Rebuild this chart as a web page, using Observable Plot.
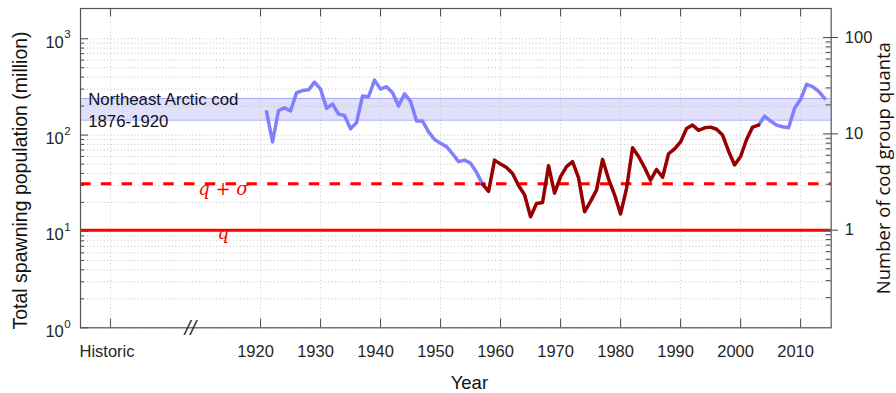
<!DOCTYPE html>
<html><head><meta charset="utf-8">
<script src="https://cdn.jsdelivr.net/npm/d3@7"></script>
<script src="https://cdn.jsdelivr.net/npm/@observablehq/plot@0.6"></script>
<style>html,body{margin:0;padding:0;background:#fff}svg{display:block}</style>
</head><body><div id="chart"></div>
<script>
// ---- data ----
const earlyYears  = [1921,1922,1923,1924,1925,1926,1927,1928,1929,1930,1931,1932,1933,1934,1935,1936,1937,1938,1939,1940,1941,1942,1943,1944,1945,1946,1947,1948,1949,1950,1951,1952,1953,1954,1955,1956,1957];
const earlyValues = [175,85,180,192,178,275,290,295,355,300,190,210,165,160,116,135,255,250,372,300,318,275,200,268,225,140,140,108,90,82,76,64,53,55,51,41,31];
const lowYears  = [1957,1958,1959,1960,1961,1962,1963,1964,1965,1966,1967,1968,1969,1970,1971,1972,1973,1974,1975,1976,1977,1978,1979,1980,1981,1982,1983,1984,1985,1986,1987,1988,1989,1990,1991,1992,1993,1994,1995,1996,1997,1998,1999,2000,2001,2002,2003];
const lowValues = [31,26,55,50,46,40,30,24,14.2,19.5,20,48,25,37,47,53,36,16,20.5,27,56,35,24,15.2,28,74,60,46,34,44,36.5,64,72,85,117,127,112,119,121,115,100,68,49,60,90,121,127];
const lateYears  = [2003,2004,2005,2006,2007,2008,2009,2010,2011,2012,2013,2014];
const lateValues = [127,157,140,127,122,119,190,235,336,318,285,240];

const q = 10.3;            // one cod group quantum (million)
const qPlusSigma = 31.2;   // q + sigma
const historicLow = 143, historicHigh = 240;   // Northeast Arctic cod 1876-1920 band

const historicTick = 1895, historicLabel = "Historic";
const yearTicks = [1920,1930,1940,1950,1960,1970,1980,1990,2000,2010];
const yearLabels = ["1920","1930","1940","1950","1960","1970","1980","1990","2000","2010"];
const breakYear = 1908.3;
const leftExponents = [0,1,2,3];
const leftMinor = [2,3,4,5,6,7,8,9,20,30,40,50,60,70,80,90,200,300,400,500,600,700,800,900];
const rightMajor = [1,10,100];
const rightMinor = [0.2,0.3,0.4,0.5,0.6,0.7,0.8,0.9,2,3,4,5,6,7,8,9,20,30,40,50,60,70,80,90];

// ---- layout ----
const W = 896, H = 393, mL = 80, mR = 65.3, mT = 8, mB = 65.7;
const xDom = [1890, 2015.1], yDom = [1, 2060];
const pxPerYear = (W - mL - mR) / (xDom[1] - xDom[0]);
const pxPerDecade = (H - mT - mB) / Math.log10(yDom[1] / yDom[0]);
const yrs = px => px / pxPerYear;
const fac = px => Math.pow(10, px / pxPerDecade);

const toRows = (xs, vs) => xs.map((year, i) => ({year, value: vs[i]}));
const early = toRows(earlyYears, earlyValues);
const low = toRows(lowYears, lowValues);
const late = toRows(lateYears, lateValues);
const yearRows = yearTicks.map((year, i) => ({year, label: yearLabels[i]}));
const xTickYears = [historicTick, ...yearTicks];
const leftMajor = leftExponents.map(e => Math.pow(10, e));

const font = "Liberation Sans, Arial, Helvetica, sans-serif";
const axisCol = "#555";
const textCol = "#262626";
const blue = "#8080ff", darkRed = "#960000", red = "#ff0000";
const serif = "DejaVu Serif, Liberation Serif, serif";

const chart = Plot.plot({
  width: W, height: H,
  marginLeft: mL, marginRight: mR, marginTop: mT, marginBottom: mB,
  style: {fontFamily: font, background: "#fff"},
  x: {domain: xDom, axis: null},
  y: {type: "log", domain: yDom, axis: null},
  marks: [
    // historic band
    Plot.rect([0], {x1: xDom[0], x2: xDom[1], y1: historicLow, y2: historicHigh, fill: "#e0e0fb"}),
    // grid
    Plot.ruleY([...leftMajor, ...leftMinor], {stroke: "#c4c4c4", strokeWidth: 0.9, strokeDasharray: "1.2,2.2"}),
    Plot.ruleX(xTickYears, {stroke: "#cfcfcf", strokeWidth: 0.9, strokeDasharray: "1.2,2.2"}),
    Plot.ruleY([historicLow, historicHigh], {stroke: "#a6a6ff", strokeWidth: 1}),
    // threshold lines
    Plot.ruleY([qPlusSigma], {stroke: red, strokeWidth: 3, strokeDasharray: "10.5,10.3"}),
    Plot.ruleY([q], {stroke: red, strokeWidth: 3}),
    // data
    Plot.line(early, {x: "year", y: "value", stroke: blue, strokeWidth: 3.5, strokeLinejoin: "round", strokeLinecap: "round"}),
    Plot.line(late, {x: "year", y: "value", stroke: blue, strokeWidth: 3.5, strokeLinejoin: "round", strokeLinecap: "round"}),
    Plot.line(low, {x: "year", y: "value", stroke: darkRed, strokeWidth: 3.5, strokeLinejoin: "round", strokeLinecap: "round"}),
    // annotations
    Plot.text([0], {x: xDom[0], y: historicHigh, text: () => "Northeast Arctic cod\n1876-1920", textAnchor: "start", lineAnchor: "top", lineHeight: 1.31, dx: 7.7, dy: -9, fontSize: 16.8, fill: "#111"}),
    Plot.text([qPlusSigma], {x: 1913.8, y: d => d, text: () => "q + σ", lineAnchor: "bottom", dy: 11, fontSize: 18, fontStyle: "italic", fontFamily: serif, fill: red}),
    Plot.text([q], {x: 1913.8, y: d => d, text: () => "q", lineAnchor: "bottom", dy: 9, fontSize: 18, fontStyle: "italic", fontFamily: serif, fill: red}),
    // frame
    Plot.frame({stroke: axisCol, strokeWidth: 1.2}),
    // left ticks (inward)
    Plot.ruleY(leftMajor, {x1: xDom[0], x2: xDom[0] + yrs(8), stroke: axisCol, strokeWidth: 1.1}),
    Plot.ruleY(leftMinor, {x1: xDom[0], x2: xDom[0] + yrs(4), stroke: axisCol, strokeWidth: 1.1}),
    // right ticks
    Plot.ruleY(rightMajor, {y: d => d * q, x1: xDom[1] - yrs(7.7), x2: xDom[1] + yrs(7.3), stroke: axisCol, strokeWidth: 1.1}),
    Plot.ruleY(rightMinor, {y: d => d * q, x1: xDom[1] - yrs(5), x2: xDom[1], stroke: axisCol, strokeWidth: 1.1}),
    // top and bottom ticks (inward)
    Plot.ruleX(xTickYears, {y1: yDom[0], y2: yDom[0] * fac(8.5), stroke: axisCol, strokeWidth: 1.1}),
    Plot.ruleX(xTickYears, {y1: yDom[1], y2: yDom[1] / fac(8.5), stroke: axisCol, strokeWidth: 1.1}),
    // left tick labels 10^n
    Plot.text(leftExponents, {x: xDom[0], y: d => Math.pow(10, d), text: () => "10", textAnchor: "end", lineAnchor: "bottom", dx: -16.7, dy: 9, fontSize: 16.5, fill: textCol}),
    Plot.text(leftExponents, {x: xDom[0], y: d => Math.pow(10, d), text: d => String(d), textAnchor: "start", lineAnchor: "bottom", dx: -16.2, dy: -0.3, fontSize: 11.6, fill: textCol}),
    // right tick labels
    Plot.text(rightMajor, {x: xDom[1], y: d => d * q, text: d => String(d), textAnchor: "start", lineAnchor: "middle", dx: 13.6, fontSize: 16.5, fill: textCol}),
    // bottom tick labels
    Plot.text(yearRows, {x: "year", y: yDom[0], text: "label", textAnchor: "middle", lineAnchor: "bottom", dy: 29.4, dx: -5, fontSize: 16.5, fill: textCol}),
    Plot.text([historicTick], {x: d => d, y: yDom[0], text: () => historicLabel, textAnchor: "middle", lineAnchor: "bottom", dy: 29.4, dx: -3.5, fontSize: 16.5, fill: textCol}),
    Plot.text([breakYear], {x: d => d, y: yDom[0], text: () => "//", textAnchor: "middle", lineAnchor: "middle", fontSize: 21, fontStyle: "italic", fill: "#333"}),
    // axis titles
    Plot.text([0], {frameAnchor: "left", text: () => "Total spawning population (million)", rotate: -90, textAnchor: "middle", dx: -59.3, dy: 12.3, lineAnchor: "middle", fontSize: 19.5, fill: "#111"}),
    Plot.text([0], {frameAnchor: "right", text: () => "Number of cod group quanta", rotate: -90, textAnchor: "middle", dx: 53, dy: 0, lineAnchor: "middle", fontSize: 18.5, fontFamily: "Open Sans, sans-serif", fill: "#111"}),
    Plot.text([0], {frameAnchor: "bottom", text: () => "Year", textAnchor: "middle", dx: 13.5, dy: 55, lineAnchor: "middle", fontSize: 18.5, fill: "#111"})
  ]
});
document.getElementById("chart").appendChild(chart);
</script>
</body></html>
